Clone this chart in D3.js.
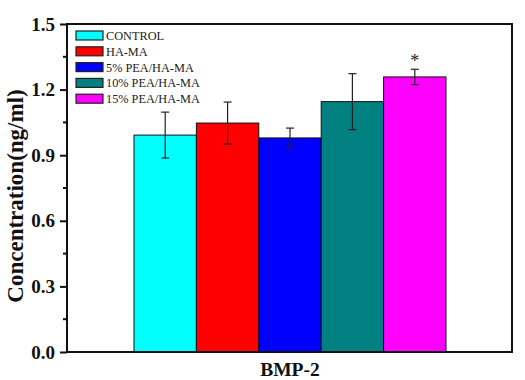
<!DOCTYPE html>
<html><head><meta charset="utf-8">
<script src="https://cdn.jsdelivr.net/npm/d3@7"></script>
<style>body{margin:0;background:#fff}svg{display:block}</style>
</head><body>
<svg id="c" width="525" height="380"></svg>
<script>
const groups = ["CONTROL","HA-MA","5% PEA/HA-MA","10% PEA/HA-MA","15% PEA/HA-MA"];
const values = [0.992, 1.047, 0.979, 1.145, 1.258];
const errors = [0.105, 0.096, 0.045, 0.128, 0.035];
const colors = ["#00ffff","#ff0000","#0000ff","#008080","#ff00ff"];
const yTicks = [0.0,0.3,0.6,0.9,1.2,1.5];
const category = "BMP-2";
const sigMarks = ["","","","","*"];

const svg = d3.select("#c");
const L=67, R=512, T=24, B=352;
const y = d3.scaleLinear().domain([0,1.5]).range([B,T]);
const x = d3.scaleBand().domain(groups).range([134,446]).paddingInner(0).paddingOuter(0);
const font = "'Liberation Serif','Times New Roman',serif";

// bars
svg.selectAll("rect.bar").data(groups).enter().append("rect")
  .attr("x",d=>x(d)).attr("width",x.bandwidth())
  .attr("y",(d,i)=>y(values[i])).attr("height",(d,i)=>B-y(values[i]))
  .attr("fill",(d,i)=>colors[i]).attr("stroke","#111").attr("stroke-width",1);

// error bars
const eg = svg.append("g").attr("stroke","#222").attr("stroke-width",1.2);
groups.forEach((g,i)=>{
  const cx = x(g)+x.bandwidth()/2;
  const y1=y(values[i]+errors[i]), y2=y(values[i]-errors[i]);
  eg.append("line").attr("x1",cx).attr("x2",cx).attr("y1",y1).attr("y2",y2);
  eg.append("line").attr("x1",cx-4).attr("x2",cx+4).attr("y1",y1).attr("y2",y1);
  eg.append("line").attr("x1",cx-4).attr("x2",cx+4).attr("y1",y2).attr("y2",y2);
  if(sigMarks[i]) svg.append("text").attr("x",cx).attr("y",y1-2).attr("text-anchor","middle")
     .attr("font-family",font).attr("font-size",18).attr("fill","#222").text(sigMarks[i]);
});

// frame
svg.append("rect").attr("x",L).attr("y",T).attr("width",R-L).attr("height",B-T)
  .attr("fill","none").attr("stroke","#111").attr("stroke-width",2);

// y axis
const ax = svg.append("g").attr("transform",`translate(${L},0)`)
  .call(d3.axisLeft(y).tickValues(yTicks).tickFormat(d3.format(".1f")).tickSize(7).tickPadding(5));
ax.select(".domain").remove();
ax.selectAll("line").attr("stroke","#111").attr("stroke-width",2);
ax.selectAll("text").attr("font-family",font).attr("font-size",19).attr("font-weight","bold").attr("fill","#111");
// minor ticks
const minor = yTicks.slice(0,-1).map(v=>v+0.15);
svg.append("g").selectAll("line").data(minor).enter().append("line")
  .attr("x1",L-4).attr("x2",L).attr("y1",d=>y(d)).attr("y2",d=>y(d))
  .attr("stroke","#111").attr("stroke-width",2);

// y label
svg.append("text").attr("transform",`translate(23,196) rotate(-90)`)
  .attr("text-anchor","middle").attr("font-family",font).attr("font-size",23).attr("font-weight","bold")
  .attr("fill","#111").text("Concentration(ng/ml)");

// x label
svg.append("text").attr("x",290).attr("y",376).attr("text-anchor","middle")
  .attr("font-family",font).attr("font-size",19.5).attr("font-weight","bold").attr("fill","#111").text(category);

// legend
const lg = svg.append("g");
groups.forEach((g,i)=>{
  const yy = 31 + i*15.8;
  lg.append("rect").attr("x",76).attr("y",yy).attr("width",27).attr("height",9)
    .attr("fill",colors[i]).attr("stroke","#222").attr("stroke-width",1.2);
  lg.append("text").attr("x",106).attr("y",yy+9).attr("font-family",font).attr("font-size",12.3)
    .attr("fill","#222").text(g);
});
</script>
</body></html>
